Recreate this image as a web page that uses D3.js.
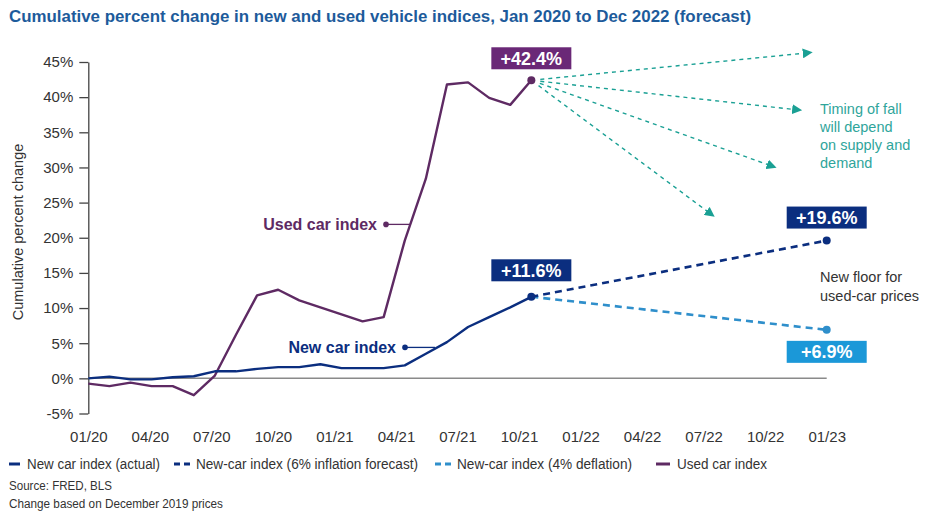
<!DOCTYPE html>
<html><head><meta charset="utf-8">
<script src="https://cdn.jsdelivr.net/npm/d3@7/dist/d3.min.js"></script>
<style>
body{margin:0;background:#fff;}
svg{display:block;font-family:"Liberation Sans",Arial,Helvetica,sans-serif;}
</style></head>
<body>
<svg id="chart" width="935" height="521"></svg>
<script>
// ---------- data ----------
const xTickLabels = ["01/20","04/20","07/20","10/20","01/21","04/21","07/21","10/21","01/22","04/22","07/22","10/22","01/23"];
const yTicks = [-5,0,5,10,15,20,25,30,35,40,45];
// monthly values, Jan 2020 (index 0) to Oct 2021 (index 21)
const newCarActual = [0.0,0.25,-0.15,-0.15,0.15,0.3,1.0,1.0,1.35,1.6,1.6,2.0,1.45,1.45,1.45,1.85,3.5,5.15,7.3,8.7,10.1,11.6];
const usedCar = [-0.75,-1.1,-0.6,-1.1,-1.1,-2.4,0.4,6.2,11.8,12.6,11.1,10.1,9.1,8.1,8.7,19.6,28.4,41.8,42.1,39.9,38.9,42.4];
// forecasts: from Oct 2021 (index 21) to Dec 2022 (index 35)
const forecastMonths = [21,35];
const inflationForecast = [11.6,19.6];
const deflationForecast = [11.6,6.9];
// used-car fall scenarios (arrow targets)
const arrowMonths = [34.1,33.6,32.4,29.5];
const arrowValues = [46.3,38.2,30.2,23.4];

const C = {
  navy:"#0b2e7f", light:"#2f8fcb", lightBox:"#1b98d8", purple:"#5e2a63", purpleBox:"#6a2877",
  teal:"#1aa094", title:"#1d5b9b", text:"#333333", zero:"#8a8a8a"
};

const svg = d3.select("#chart");
const x = d3.scaleLinear().domain([0,35]).range([88.3,826.7]);
const y = d3.scaleLinear().domain([-5,45]).range([413.5,62]);
const xl = d3.scalePoint().domain(xTickLabels).range([x(0), x(35)]);

// title
svg.append("text").attr("x",9).attr("y",22)
  .attr("font-family","'Liberation Sans Narrow','Liberation Sans',Arial,sans-serif")
  .attr("font-weight","bold").attr("font-size",17).attr("fill",C.title)
  .attr("textLength",742).attr("lengthAdjust","spacingAndGlyphs")
  .text("Cumulative percent change in new and used vehicle indices, Jan 2020 to Dec 2022 (forecast)");

// y axis
const yAxis = svg.append("g").attr("transform",`translate(${x(0)},0)`)
  .call(d3.axisLeft(y).tickValues(yTicks).tickFormat(d=>d+"%").tickSize(9).tickSizeOuter(0));
yAxis.select(".domain").attr("stroke","#444").attr("stroke-width",1.3);
yAxis.selectAll(".tick line").attr("stroke","#444").attr("stroke-width",1.3);
yAxis.selectAll(".tick text").attr("font-size",15).attr("fill",C.text).attr("x",-15)
  .attr("font-family","'Liberation Sans',Arial,sans-serif");

svg.append("text").attr("transform","translate(23,232) rotate(-90)")
  .attr("text-anchor","middle").attr("font-size",14.5).attr("fill",C.text)
  .text("Cumulative percent change");

// x labels
const xAxis = svg.append("g").attr("transform","translate(0,428)")
  .call(d3.axisBottom(xl).tickSize(0));
xAxis.select(".domain").remove();
xAxis.selectAll(".tick text").attr("font-size",15).attr("fill",C.text).attr("dy","0.71em")
  .attr("font-family","'Liberation Sans',Arial,sans-serif");

// zero line
svg.append("line").attr("x1",x(0)).attr("x2",x(35)).attr("y1",y(0)).attr("y2",y(0))
  .attr("stroke",C.zero).attr("stroke-width",1.5);

const line = d3.line().x((d,i)=>x(i)).y(d=>y(d));
const fline = d3.line().x((d,i)=>x(forecastMonths[i])).y(d=>y(d));

// arrows
const defs = svg.append("defs");
defs.append("marker").attr("id","arr").attr("viewBox","0 0 10 10").attr("refX",5).attr("refY",5)
  .attr("markerWidth",10).attr("markerHeight",10).attr("markerUnits","userSpaceOnUse").attr("orient","auto")
  .append("path").attr("d","M0,0 L10,5 L0,10 Z").attr("fill",C.teal);
const ox = x(21), oy = y(usedCar[21]);
arrowMonths.forEach((m,i)=>{
  const tx = x(m), ty = y(arrowValues[i]);
  const dx = tx-ox, dy = ty-oy, L = Math.hypot(dx,dy);
  svg.append("line").attr("x1",ox+dx/L*9).attr("y1",oy+dy/L*9).attr("x2",tx).attr("y2",ty)
    .attr("stroke",C.teal).attr("stroke-width",1.4).attr("stroke-dasharray","4,4")
    .attr("marker-end","url(#arr)");
});

// forecast lines
svg.append("path").datum(deflationForecast).attr("d",fline).attr("fill","none")
  .attr("stroke",C.light).attr("stroke-width",2.6).attr("stroke-dasharray","7,5");
svg.append("path").datum(inflationForecast).attr("d",fline).attr("fill","none")
  .attr("stroke",C.navy).attr("stroke-width",2.6).attr("stroke-dasharray","7,5");

// actual lines
svg.append("path").datum(usedCar).attr("d",line).attr("fill","none")
  .attr("stroke",C.purple).attr("stroke-width",2.4).attr("stroke-linejoin","round");
svg.append("path").datum(newCarActual).attr("d",line).attr("fill","none")
  .attr("stroke",C.navy).attr("stroke-width",2.4).attr("stroke-linejoin","round");

// end dots
const dots = [
  [21, usedCar[21], C.purple],
  [21, newCarActual[21], C.navy],
  [35, inflationForecast[1], C.navy],
  [35, deflationForecast[1], C.light]
];
dots.forEach(d=>svg.append("circle").attr("cx",x(d[0])).attr("cy",y(d[1])).attr("r",4).attr("fill",d[2]));

// value boxes
function box(m, v, off, fill, label){
  const cx = x(m), cy = y(v)+off;
  svg.append("rect").attr("x",cx-40).attr("y",cy-11).attr("width",80).attr("height",22).attr("fill",fill);
  svg.append("text").attr("x",cx).attr("y",cy+6.5).attr("text-anchor","middle")
    .attr("font-weight","bold").attr("font-size",18).attr("fill","#fff").text(label);
}
box(21, usedCar[21], -22, C.purpleBox, "+42.4%");
box(21, newCarActual[21], -26.5, C.navy, "+11.6%");
box(35, inflationForecast[1], -23, C.navy, "+19.6%");
box(35, deflationForecast[1], 22, C.lightBox, "+6.9%");

// series labels with leader lines
function leader(label, textEndX, yv, lineEndX, color){
  const yy = y(yv);
  svg.append("line").attr("x1",textEndX+9).attr("x2",lineEndX).attr("y1",yy).attr("y2",yy)
    .attr("stroke",color).attr("stroke-width",1.3);
  svg.append("circle").attr("cx",textEndX+9).attr("cy",yy).attr("r",2.8).attr("fill",color);
  svg.append("text").attr("x",textEndX).attr("y",yy+5.5).attr("text-anchor","end")
    .attr("font-weight","bold").attr("font-size",16).attr("fill",color).text(label);
}
leader("Used car index", 377, usedCar[15]+2.3, 410, C.purple);
leader("New car index", 396, 4.4, 435, C.navy);

// notes
const note1 = ["Timing of fall","will depend","on supply and","demand"];
note1.forEach((t,i)=>svg.append("text").attr("x",820).attr("y",114+i*18)
  .attr("font-size",14.5).attr("fill","#2fa59b").text(t));
const note2 = ["New floor for","used-car prices"];
note2.forEach((t,i)=>svg.append("text").attr("x",820).attr("y",282+i*19)
  .attr("font-size",14.5).attr("fill",C.text).text(t));

// legend
const legend = [
  {label:"New car index (actual)", color:C.navy, dash:null, sx:9, sw:11, tx:27, tw:133},
  {label:"New-car index (6% inflation forecast)", color:C.navy, dash:"6,4", sx:174, sw:17, tx:196, tw:222},
  {label:"New-car index (4% deflation)", color:C.light, dash:"6,4", sx:435, sw:16, tx:457, tw:175},
  {label:"Used car index", color:C.purple, dash:null, sx:656, sw:14, tx:677, tw:90}
];
const narrow = "'Liberation Sans Narrow','Liberation Sans',Arial,sans-serif";
legend.forEach(l=>{
  const ln = svg.append("line").attr("x1",l.sx).attr("x2",l.sx+l.sw).attr("y1",464).attr("y2",464)
    .attr("stroke",l.color).attr("stroke-width",3);
  if(l.dash) ln.attr("stroke-dasharray",l.dash);
  svg.append("text").attr("x",l.tx).attr("y",469).attr("font-size",14).attr("fill",C.text)
    .attr("font-family",narrow).attr("textLength",l.tw).attr("lengthAdjust","spacingAndGlyphs").text(l.label);
});
svg.append("text").attr("x",9).attr("y",490).attr("font-size",12.5).attr("fill",C.text)
  .attr("font-family",narrow).attr("textLength",103).attr("lengthAdjust","spacingAndGlyphs").text("Source: FRED, BLS");
svg.append("text").attr("x",9).attr("y",508).attr("font-size",12.5).attr("fill",C.text)
  .attr("font-family",narrow).attr("textLength",214).attr("lengthAdjust","spacingAndGlyphs").text("Change based on December 2019 prices");
</script>
</body></html>
